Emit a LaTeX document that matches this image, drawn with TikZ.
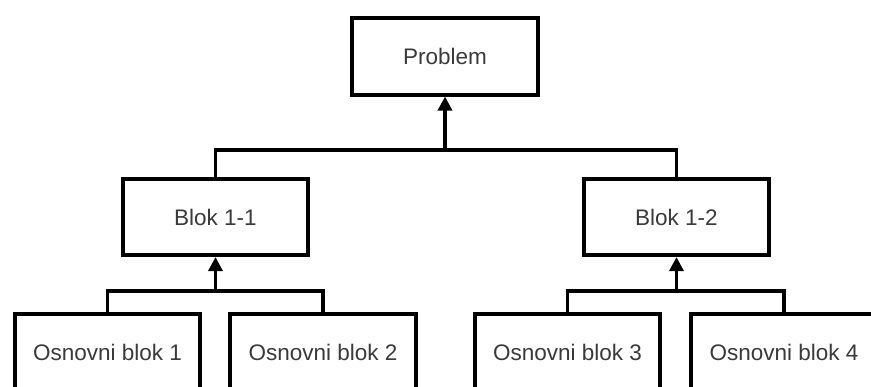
\documentclass[tikz,border=0pt]{standalone}
\usepackage{fontspec}
\setmainfont{Liberation Sans}
\usetikzlibrary{arrows.meta}
\definecolor{txt}{HTML}{3A3A3A}
\tikzset{
  blk/.style={draw=black, line width=3.6pt, fill=white, minimum width=185.5pt, minimum height=76.5pt,
    inner sep=0pt, text=txt, font=\fontsize{22.5}{26}\selectfont},
  conn/.style={draw=black, line width=3.4pt},
  arr/.style={conn, -{Triangle[width=14pt,length=14pt]}}
}
\begin{document}
\begin{tikzpicture}[x=1pt,y=-1pt]
\useasboundingbox (0,0) rectangle (871,387);
\clip (0,0) rectangle (871,387);
\fill[white] (0,0) rectangle (871,387);
\node[blk] (p) at (445,56.5) {Problem};
\node[blk] (b1) at (215.5,217) {Blok 1-1};
\node[blk] (b2) at (676.5,217) {Blok 1-2};
\node[blk] (o1) at (107.5,352) {Osnovni blok 1};
\node[blk] (o2) at (323,352) {Osnovni blok 2};
\node[blk] (o3) at (567.5,352) {Osnovni blok 3};
\node[blk] (o4) at (784,352) {Osnovni blok 4};
\coordinate (j0) at (445,150);
\coordinate (j1) at (215.5,291);
\coordinate (j2) at (676.5,291);
\draw[conn] (b1.north) |- (j0) -| (b2.north);
\draw[arr] (j0) -- (p.south);
\draw[conn] (o1.north) |- (j1) -| (o2.north);
\draw[arr] (j1) -- (b1.south);
\draw[conn] (o3.north) |- (j2) -| (o4.north);
\draw[arr] (j2) -- (b2.south);
\end{tikzpicture}
\end{document}
